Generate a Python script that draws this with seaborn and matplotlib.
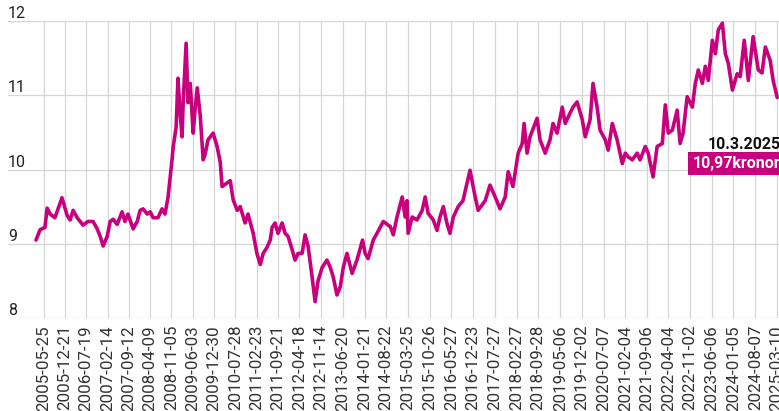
import numpy as np
import pandas as pd
import matplotlib
matplotlib.use('Agg')
import matplotlib.pyplot as plt
import seaborn as sns

# EUR/SEK (decimalår, kronor)
years = [2005.19, 2005.30, 2005.43, 2005.49, 2005.57, 2005.70, 2005.89, 2006.03, 2006.11, 2006.19,
         2006.30, 2006.38, 2006.46, 2006.59, 2006.73, 2006.84, 2006.92, 2007.00, 2007.11, 2007.19,
         2007.27, 2007.38, 2007.51, 2007.59, 2007.67, 2007.81, 2007.92, 2008.00, 2008.08, 2008.19,
         2008.27, 2008.35, 2008.48, 2008.59, 2008.67, 2008.75, 2008.86, 2008.89, 2008.97, 2009.02,
         2009.08, 2009.13, 2009.16, 2009.24, 2009.29, 2009.35, 2009.43, 2009.48, 2009.54, 2009.62,
         2009.70, 2009.75, 2009.83, 2009.97, 2010.08, 2010.16, 2010.21, 2010.43, 2010.51, 2010.62,
         2010.70, 2010.83, 2010.91, 2011.05, 2011.15, 2011.24, 2011.32, 2011.42, 2011.51, 2011.56,
         2011.64, 2011.72, 2011.83, 2011.91, 2011.99, 2012.10, 2012.18, 2012.26, 2012.37, 2012.45,
         2012.53, 2012.64, 2012.72, 2012.80, 2012.91, 2013.04, 2013.13, 2013.21, 2013.31, 2013.40,
         2013.48, 2013.58, 2013.72, 2013.85, 2014.00, 2014.07, 2014.15, 2014.29, 2014.39, 2014.56,
         2014.75, 2014.83, 2014.93, 2015.07, 2015.15, 2015.20, 2015.23, 2015.34, 2015.47, 2015.61,
         2015.69, 2015.77, 2015.91, 2016.01, 2016.09, 2016.18, 2016.28, 2016.36, 2016.45, 2016.58,
         2016.71, 2016.90, 2017.04, 2017.12, 2017.31, 2017.44, 2017.58, 2017.71, 2017.85, 2017.93,
         2018.06, 2018.20, 2018.31, 2018.36, 2018.44, 2018.52, 2018.71, 2018.79, 2018.93, 2019.06,
         2019.14, 2019.25, 2019.39, 2019.47, 2019.60, 2019.68, 2019.79, 2019.93, 2020.01, 2020.14,
         2020.22, 2020.33, 2020.41, 2020.55, 2020.63, 2020.74, 2020.87, 2021.01, 2021.09, 2021.17,
         2021.28, 2021.41, 2021.49, 2021.63, 2021.71, 2021.84, 2021.95, 2022.09, 2022.17, 2022.25,
         2022.36, 2022.49, 2022.57, 2022.65, 2022.76, 2022.90, 2022.98, 2023.06, 2023.17, 2023.25,
         2023.33, 2023.44, 2023.52, 2023.60, 2023.71, 2023.79, 2023.87, 2023.98, 2024.11, 2024.19,
         2024.30, 2024.41, 2024.54, 2024.68, 2024.78, 2024.87, 2025.00, 2025.08, 2025.19]

kronor = [9.05, 9.19, 9.22, 9.48, 9.40, 9.35, 9.62, 9.38, 9.32, 9.45,
          9.35, 9.30, 9.25, 9.30, 9.30, 9.20, 9.10, 8.97, 9.10, 9.30,
          9.33, 9.26, 9.43, 9.30, 9.40, 9.20, 9.30, 9.45, 9.47, 9.40,
          9.43, 9.35, 9.35, 9.47, 9.40, 9.62, 10.13, 10.30, 10.57, 11.23,
          10.75, 10.44, 10.90, 11.70, 10.90, 11.16, 10.49, 10.80, 11.10, 10.73,
          10.13, 10.20, 10.40, 10.49, 10.30, 10.10, 9.77, 9.85, 9.59, 9.45,
          9.50, 9.28, 9.40, 9.14, 8.87, 8.72, 8.87, 8.95, 9.05, 9.22,
          9.28, 9.14, 9.28, 9.14, 9.10, 8.92, 8.78, 8.87, 8.87, 9.12,
          8.97, 8.55, 8.22, 8.50, 8.68, 8.78, 8.68, 8.55, 8.31, 8.42,
          8.68, 8.87, 8.60, 8.78, 9.05, 8.87, 8.80, 9.05, 9.14, 9.30,
          9.23, 9.12, 9.36, 9.63, 9.36, 9.58, 9.14, 9.36, 9.32, 9.45,
          9.63, 9.41, 9.32, 9.18, 9.36, 9.50, 9.27, 9.14, 9.36, 9.50,
          9.58, 9.99, 9.63, 9.45, 9.58, 9.79, 9.63, 9.47, 9.63, 9.97,
          9.77, 10.22, 10.35, 10.62, 10.22, 10.44, 10.69, 10.40, 10.22, 10.40,
          10.62, 10.49, 10.84, 10.62, 10.76, 10.84, 10.91, 10.67, 10.44, 10.67,
          11.16, 10.84, 10.53, 10.40, 10.26, 10.62, 10.40, 10.08, 10.22, 10.17,
          10.13, 10.22, 10.13, 10.31, 10.22, 9.90, 10.31, 10.35, 10.87, 10.49,
          10.53, 10.80, 10.35, 10.49, 10.98, 10.84, 11.16, 11.34, 11.16, 11.39,
          11.20, 11.74, 11.56, 11.88, 11.97, 11.56, 11.43, 11.07, 11.29, 11.25,
          11.74, 11.20, 11.79, 11.34, 11.30, 11.65, 11.47, 11.20, 10.97]

tick_dates = ['2005-05-25', '2005-12-21', '2006-07-19', '2007-02-14', '2007-09-12', '2008-04-09',
              '2008-11-05', '2009-06-03', '2009-12-30', '2010-07-28', '2011-02-23', '2011-09-21',
              '2012-04-18', '2012-11-14', '2013-06-20', '2014-01-21', '2014-08-22', '2015-03-25',
              '2015-10-26', '2016-05-27', '2016-12-23', '2017-07-27', '2018-02-27', '2018-09-28',
              '2019-05-06', '2019-12-02', '2020-07-07', '2021-02-04', '2021-09-06', '2022-04-04',
              '2022-11-02', '2023-06-06', '2024-01-05', '2024-08-07', '2025-03-10']
y_ticks = [8, 9, 10, 11, 12]
last_date_label = '10.3.2025'
last_value_label = '10,97kronor'

magenta = '#c8007d'

dates = pd.Timestamp('2005-01-01') + pd.to_timedelta((np.array(years) - 2005) * 365.25, unit='D')
df = pd.DataFrame({'datum': dates, 'kronor': kronor})

sns.set_theme(style='white')
plt.rcParams['font.family'] = ['Roboto', 'DejaVu Sans']

fig = plt.figure(figsize=(7.79, 4.11), dpi=100)
# axes run a bit past the right edge, like the cropped original
ax = fig.add_axes([8 / 779, 93 / 411, 792 / 779, 297 / 411])

sns.lineplot(data=df, x='datum', y='kronor', ax=ax, color=magenta, linewidth=2.6)

ax.set_xlim(pd.Timestamp('2004-06-08'), pd.Timestamp('2025-10-22'))
ax.set_ylim(8, 12)

ax.set_xticks(pd.to_datetime(tick_dates))
ax.set_xticklabels(tick_dates, rotation=90, fontsize=12.2, color='#333333')
ax.set_yticks(y_ticks)
ax.set_yticklabels([str(v) for v in y_ticks], fontsize=11.5, color='#222222')
for lab in ax.get_yticklabels():
    lab.set_horizontalalignment('left')
    lab.set_verticalalignment('bottom')
ax.tick_params(axis='x', length=0, pad=5)
ax.tick_params(axis='y', length=0, pad=0)

ax.grid(True, color='#d6d6d6', linewidth=0.9)
for s in ax.spines.values():
    s.set_visible(False)
ax.set_xlabel('')
ax.set_ylabel('')

# senaste värdet
last = (df['datum'].iloc[-1], df['kronor'].iloc[-1])
ax.annotate(last_date_label, xy=last, xytext=(-70, -47), textcoords='offset pixels',
            ha='left', va='center', fontsize=11.5, fontweight='bold', color='#111111',
            annotation_clip=False)
ax.annotate(last_value_label, xy=last, xytext=(-85, -66), textcoords='offset pixels',
            ha='left', va='center', fontsize=11.5, fontweight='bold', color='white',
            bbox=dict(boxstyle='square,pad=0.25', fc=magenta, ec='none'),
            annotation_clip=False)

fig.savefig('out.png', dpi=100)
